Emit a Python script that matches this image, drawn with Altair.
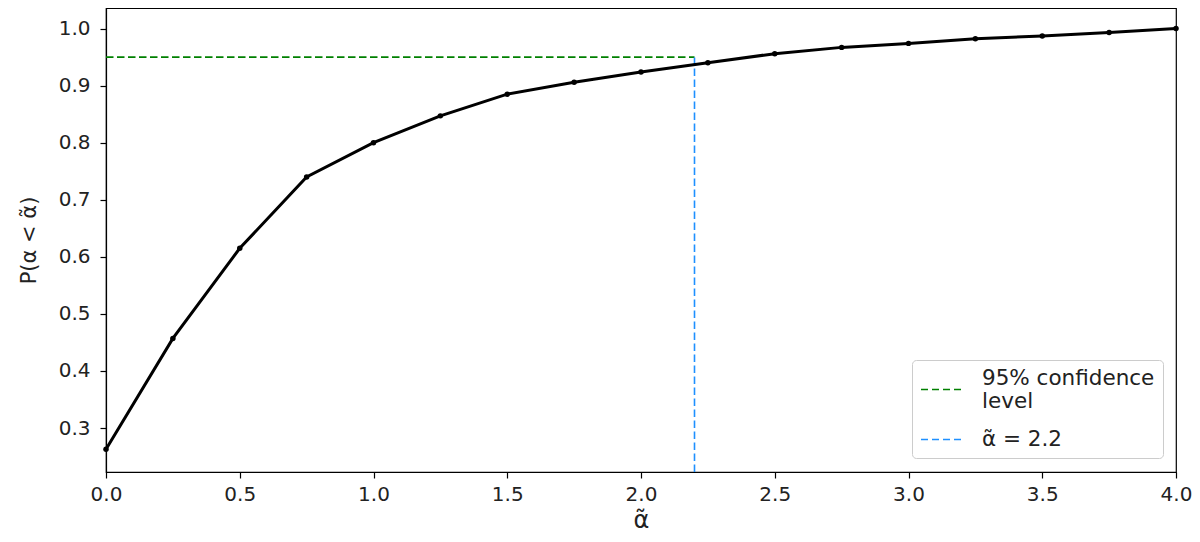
import altair as alt
import pandas as pd

alpha_vals = [0.0, 0.25, 0.5, 0.75, 1.0, 1.25, 1.5, 1.75, 2.0, 2.25, 2.5, 2.75, 3.0, 3.25, 3.5, 3.75, 4.0]
prob_vals = [0.263, 0.457, 0.615, 0.740, 0.800, 0.847, 0.885, 0.906, 0.924, 0.940, 0.956, 0.967, 0.974, 0.982, 0.987, 0.993, 1.0]

conf_level = 0.95
alpha_cut = 2.2
y_min, y_max = 0.223, 1.036
ref_labels = ["95% confidence|\u00a0level", "α̃ = 2.2"]
ref_colors = ["#008000", "#1e90ff"]

curve = pd.DataFrame({"a": alpha_vals, "p": prob_vals})
refs = pd.DataFrame({
    "x": [0.0, alpha_cut],
    "x2": [alpha_cut, alpha_cut],
    "y": [conf_level, y_min],
    "y2": [conf_level, conf_level],
    "label": ref_labels,
})

font = "DejaVu Sans"
xscale = alt.Scale(domain=[0, 4], nice=False, zero=False)
yscale = alt.Scale(domain=[y_min, y_max], nice=False, zero=False)

xaxis = alt.Axis(values=[0, 0.5, 1, 1.5, 2, 2.5, 3, 3.5, 4], format=".1f", title="α̃",
                 grid=False, tickColor="black", domainColor="black", labelColor="#222222",
                 labelFontSize=20, titleFontSize=24, titleFontWeight="normal", titleColor="#222222",
                 labelFont=font, titleFont=font, tickSize=6, tickWidth=1.2, domainWidth=1.2,
                 labelPadding=6, titlePadding=4, labelFlush=False)
yaxis = alt.Axis(values=[0.3, 0.4, 0.5, 0.6, 0.7, 0.8, 0.9, 1.0], format=".1f", title="P(α < α̃)",
                 grid=False, tickColor="black", domainColor="black", labelColor="#222222",
                 labelFontSize=20, titleFontSize=21, titleFontWeight="normal", titleColor="#222222",
                 labelFont=font, titleFont=font, tickSize=6, tickWidth=1.2, domainWidth=1.2,
                 labelPadding=10, titlePadding=19, labelFlush=False)

line = alt.Chart(curve).mark_line(color="black", strokeWidth=3).encode(
    x=alt.X("a:Q", scale=xscale, axis=xaxis),
    y=alt.Y("p:Q", scale=yscale, axis=yaxis),
)
pts = alt.Chart(curve).mark_point(filled=True, color="black", size=30, opacity=1).encode(
    x=alt.X("a:Q", scale=xscale),
    y=alt.Y("p:Q", scale=yscale),
)
rules = alt.Chart(refs).mark_rule(strokeWidth=1.6, strokeDash=[7.5, 3.5]).encode(
    x=alt.X("x:Q", scale=xscale),
    x2="x2:Q",
    y=alt.Y("y:Q", scale=yscale),
    y2="y2:Q",
    color=alt.Color("label:N", scale=alt.Scale(domain=ref_labels, range=ref_colors),
                    legend=alt.Legend(title=None, orient="none", legendX=806, legendY=352,
                                      symbolType="stroke", symbolDash=[7, 4], symbolStrokeWidth=1.6,
                                      symbolSize=1681, labelFontSize=21.5, labelFont=font,
                                      labelColor="#222222", labelExpr="split(datum.label, '|')",
                                      labelBaseline={"expr": "indexof(datum.label, '|') >= 0 ? 'bottom' : 'middle'"},
                                      fillColor="white", strokeColor="#cccccc", cornerRadius=4,
                                      padding=8, rowPadding=5, labelOffset=19,
                                      labelLimit=400)),
)

chart = alt.layer(rules, line, pts).properties(
    width=1070, height=464,
    background="white",
    autosize=alt.AutoSizeParams(type="none"),
    padding={"left": 98, "top": 0, "right": 16, "bottom": 62},
).configure_view(stroke="black", strokeWidth=1.2)

chart.save("out.html", embed_options={"renderer": "svg", "actions": False})
